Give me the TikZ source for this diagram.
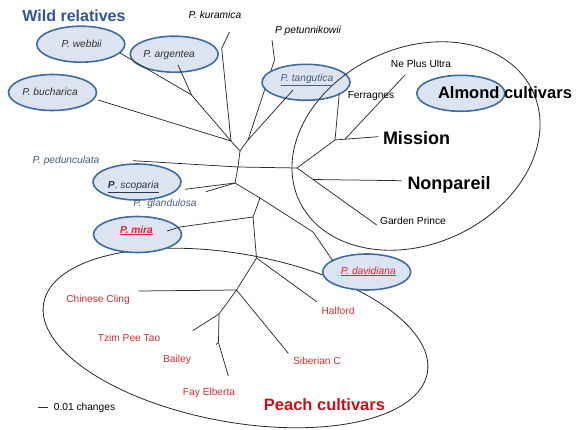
\documentclass[tikz,border=0pt]{standalone}
\usepackage{fontspec}
\setmainfont{Liberation Sans}
\usetikzlibrary{shapes.geometric}
\definecolor{blobfill}{RGB}{220,227,241}
\definecolor{blobdraw}{RGB}{63,108,160}
\definecolor{wildblue}{RGB}{47,85,151}
\definecolor{slate}{RGB}{72,92,128}
\definecolor{darkslate}{RGB}{45,55,78}
\definecolor{labgray}{RGB}{50,50,50}
\definecolor{peachred}{RGB}{214,45,45}
\definecolor{brightred}{RGB}{226,35,48}
\definecolor{deepred}{RGB}{200,16,22}
\definecolor{treeline}{RGB}{45,45,45}
\definecolor{hullgray}{RGB}{40,40,40}
\begin{document}
\begin{tikzpicture}[x=1pt,y=-1pt,
  blob/.style={ellipse, draw=blobdraw, fill=blobfill, line width=1.6pt, minimum width=88pt, minimum height=36pt, inner sep=0pt},
  hull/.style={ellipse, draw=hullgray, line width=0.8pt, inner sep=0pt},
  branch/.style={draw=treeline, line width=0.75pt, line join=round},
  lab/.style={inner sep=0pt, font=\fontsize{10.2}{12}\selectfont},
  itlab/.style={inner sep=0pt, font=\fontsize{10.2}{12}\selectfont\itshape},
  bigtxt/.style={inner sep=0pt, font=\fontsize{18}{20}\selectfont\bfseries},
  midtxt/.style={inner sep=0pt, font=\fontsize{16.5}{19}\selectfont\bfseries},
]
\useasboundingbox (0,0) rectangle (580,430);

% junctions
\coordinate (jW) at (191.5,95);
\coordinate (jL) at (231,141);
\coordinate (jR) at (248,140);
\coordinate (jT) at (240,151);
\coordinate (jM) at (238,167);
\coordinate (jLow) at (235,183);
\coordinate (jP) at (260,198);
\coordinate (jD) at (313,232);
\coordinate (jMira) at (253,217);
\coordinate (jP0) at (256.5,258);
\coordinate (jP1) at (236.5,290);
\coordinate (jP2) at (219,314);
\coordinate (jP3) at (218.5,342.5);
\coordinate (jA0) at (297,168);
\coordinate (jA1) at (335,140);
\coordinate (jA3) at (345,139.2);
\coordinate (jA2) at (313,179.5);
% leaf ends
\coordinate (webE) at (120,53);
\coordinate (argE) at (178,65);
\coordinate (bucE) at (98,100);
\coordinate (kurE) at (229.5,32);
\coordinate (kurB) at (221.7,48.3);
\coordinate (petE) at (272,40);
\coordinate (petB) at (274.5,60);
\coordinate (tanE) at (293,90);
\coordinate (pedE) at (133,160.7);
\coordinate (scoE) at (185,189.3);
\coordinate (glaE) at (206,191.7);
\coordinate (miraE) at (167,231);
\coordinate (miraB) at (180,227);
\coordinate (davE) at (333,261);
\coordinate (halE) at (316.7,301.7);
\coordinate (ccE) at (138.3,291);
\coordinate (sibE) at (288.3,353.3);
\coordinate (tzE) at (192.7,330.7);
\coordinate (faE) at (228.3,376);
\coordinate (baE) at (216,344.5);
\coordinate (ferE) at (339.3,93.3);
\coordinate (misE) at (378.3,136.7);
\coordinate (npuE) at (405,75);
\coordinate (nonE) at (401.7,180.7);
\coordinate (gpE) at (376.7,225);
\coordinate (sb1) at (38.3,407.7);
\coordinate (sb2) at (47.7,407.7);

% branch hidden under the tangutica ellipse
\draw[branch] (petE) -- (petB) -- (jR);

% peach hull
\node[hull, minimum width=390pt, minimum height=168pt, rotate=-10.35] (peachHull) at (235.5,338) {};

% blue ellipses
\node[blob] (webBlob) at (80.8,44.2) {};
\node[blob] (argBlob) at (174.2,54.2) {};
\node[blob] (bucBlob) at (52.5,92.5) {};
\node[blob] (tanBlob) at (306,82.3) {};
\node[blob] (almBlob) at (460.8,93.3) {};
\node[blob] (scoBlob) at (137,182) {};
\node[blob] (miraBlob) at (137.5,234.5) {};
\node[blob] (davBlob) at (366.7,272) {};

% almond hull
\node[hull, minimum width=258pt, minimum height=196pt, rotate=25] (almondHull) at (416,146) {};

% tree
\draw[branch] (webE) -- (jW);
\draw[branch] (argE) -- (jW);
\draw[branch] (jW) -- (jL);
\draw[branch] (bucE) -- (jL);
\draw[branch] (kurE) -- (kurB) -- (jL);
\draw[branch] (tanE) -- (jR);
\draw[branch] (jL) -- (jT);
\draw[branch] (jR) -- (jT);
\draw[branch] (jT) -- (jM);
\draw[branch] (pedE) -- (jM);
\draw[branch] (jM) -- (jLow);
\draw[branch] (scoE) -- (jLow);
\draw[branch] (glaE) -- (jLow);
\draw[branch] (jLow) -- (jP) -- (jD) -- (davE);
\draw[branch] (jP) -- (jMira);
\draw[branch] (miraE) -- (miraB) -- (jMira);
\draw[branch] (jMira) -- (jP0);
\draw[branch] (jP0) -- (halE);
\draw[branch] (jP0) -- (jP1);
\draw[branch] (ccE) -- (jP1);
\draw[branch] (jP1) -- (sibE);
\draw[branch] (jP1) -- (jP2);
\draw[branch] (jP2) -- (tzE);
\draw[branch] (jP2) -- (jP3);
\draw[branch] (jP3) -- (baE);
\draw[branch] (jP3) -- (faE);
\draw[branch] (jM) -- (jA0);
\draw[branch] (jA0) -- (jA1);
\draw[branch] (jA1) -- (ferE);
\draw[branch] (jA1) -- (jA3) -- (misE);
\draw[branch] (jA3) -- (npuE);
\draw[branch] (jA0) -- (jA2) -- (gpE);
\draw[branch] (jA2) -- (nonE);
\draw[branch] (sb1) -- (sb2);

% labels
\node[inner sep=0pt, font=\fontsize{16}{18}\selectfont\bfseries, text=wildblue] (wild) at (74,16) {Wild relatives};
\node[itlab] (kur) at (215,15) {P. kuramica};
\node[itlab] (pet) at (308,31) {P petunnikowii};
\node[itlab, text=labgray] (web) at (81.7,44) {P. webbii};
\node[itlab, text=labgray] (arg) at (169.2,55) {P. argentea};
\node[itlab, text=labgray] (buc) at (50,92) {P. bucharica};
\node[itlab, text=slate] (tan) at (307,80) {\underline{P. tangutica}};
\node[itlab, text=slate] (ped) at (66,160.5) {P. pedunculata};
\node[itlab, text=darkslate] (sco) at (133.5,187) {\underline{\textbf{P}. scoparia}};
\node[itlab, text=slate] (gla) at (165,203.5) {P.\ \ glandulosa};
\node[inner sep=0pt, font=\fontsize{10.2}{12}\selectfont\bfseries\itshape, text=brightred] (mira) at (136.5,230.5) {\underline{P. mira}};
\node[itlab, text=brightred] (dav) at (368.3,271.5) {\underline{P. davidiana}};
\node[lab] (npu) at (421,64) {Ne Plus Ultra};
\node[lab] (fer) at (371,96) {Ferragnes};
\node[lab] (gp) at (413,221) {Garden Prince};
\node[midtxt] (alm) at (505,93) {Almond cultivars};
\node[bigtxt] (mis) at (416.5,138.5) {Mission};
\node[bigtxt] (non) at (449,185) {Nonpareil};
\node[lab, text=peachred] (cc) at (98,299.5) {Chinese Cling};
\node[lab, text=peachred] (hal) at (338,311) {Halford};
\node[lab, text=peachred] (tz) at (129,337.5) {Tzim Pee Tao};
\node[lab, text=peachred] (ba) at (177,359.5) {Bailey};
\node[lab, text=peachred] (sib) at (317,361) {Siberian C};
\node[lab, text=peachred] (fay) at (209,392.5) {Fay Elberta};
\node[midtxt, text=deepred] (peach) at (324.5,405) {Peach cultivars};
\node[lab] (scale) at (84.5,408) {0.01 changes};
\end{tikzpicture}
\end{document}
